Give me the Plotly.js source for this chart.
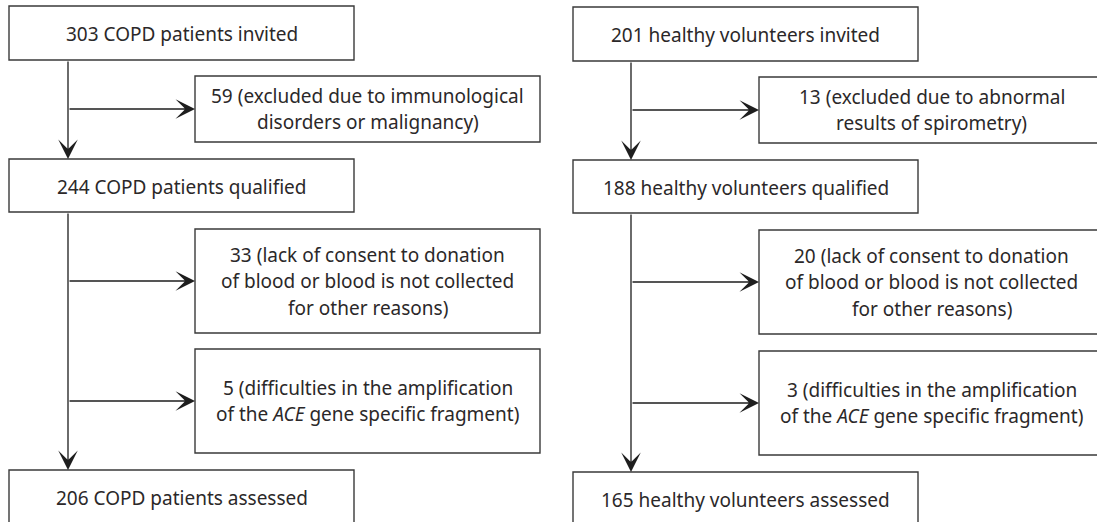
<!DOCTYPE html>
<html>
<head>
<meta charset="utf-8">
<script src="https://cdn.plot.ly/plotly-3.0.1.min.js"></script>
<style>html,body{margin:0;padding:0;background:#fff;}#chart{width:1097px;height:522px;}</style>
</head>
<body>
<div id="chart"></div>
<script>
// ---- data ----
const leftCounts = [303, 59, 244, 33, 5, 206];
const leftPhrases = [
  'COPD patients invited',
  '(excluded due to immunological<br>disorders or malignancy)',
  'COPD patients qualified',
  '(lack of consent to donation<br>of blood or blood is not collected<br>for other reasons)',
  '(difficulties in the amplification<br>of the <i>ACE</i> gene specific fragment)',
  'COPD patients assessed'
];
const rightCounts = [201, 13, 188, 20, 3, 165];
const rightPhrases = [
  'healthy volunteers invited',
  '(excluded due to abnormal<br>results of spirometry)',
  'healthy volunteers qualified',
  '(lack of consent to donation<br>of blood or blood is not collected<br>for other reasons)',
  '(difficulties in the amplification<br>of the <i>ACE</i> gene specific fragment)',
  'healthy volunteers assessed'
];
// box kinds: main (on spine) or side (exclusion)
const kinds = ['main', 'side', 'main', 'side', 'side', 'main'];

// ---- layout geometry ----
const W = 1097, H = 522;
const columns = [
  {counts: leftCounts, phrases: leftPhrases, spine: 68, main: [9, 354], side: [195, 540],
   rows: [[6, 60], [76, 142], [159, 212], [229, 333], [349, 453], [470, 540]]},
  {counts: rightCounts, phrases: rightPhrases, spine: 631, main: [573, 918], side: [759, 1104],
   rows: [[7, 61], [77, 143], [160, 213], [230, 334], [351, 455], [472, 540]]}
];
const FONT = {family: 'Noto Sans, Open Sans, sans-serif', size: 19, color: '#2b2829'};
const LINE_H = 26.5;
const BOX_LINE = {color: '#3a3a3a', width: 1.4};
const ARROW_COLOR = '#1e1e1e';

const shapes = [], annotations = [];

columns.forEach(col => {
  let lastMainBottom = null;
  col.rows.forEach((r, i) => {
    const xs = kinds[i] === 'main' ? col.main : col.side;
    shapes.push({type: 'rect', xref: 'x', yref: 'y', x0: xs[0], x1: xs[1], y0: r[0], y1: r[1],
      line: BOX_LINE, fillcolor: 'rgba(0,0,0,0)'});
    const label = col.counts[i] + ' ' + col.phrases[i];
    const lines = label.split('<br>');
    const cx = (xs[0] + xs[1]) / 2;
    const cy = kinds[i] === 'main' ? r[0] + 27.5 : (r[0] + r[1]) / 2;
    lines.forEach((t, k) => {
      annotations.push({xref: 'x', yref: 'y', x: cx, y: cy + (k - (lines.length - 1) / 2) * LINE_H,
        text: t, showarrow: false, xanchor: 'center', yanchor: 'middle', font: FONT});
    });
    const arrow = {xref: 'x', yref: 'y', axref: 'x', ayref: 'y', text: '', showarrow: true,
      arrowhead: 3, arrowsize: 2.5, arrowwidth: 1.3, arrowcolor: ARROW_COLOR, standoff: 0, startstandoff: 0};
    if (kinds[i] === 'side') {
      const ay = (r[0] + r[1]) / 2;
      annotations.push(Object.assign({}, arrow, {x: xs[0], y: ay, ax: col.spine, ay: ay}));
    } else {
      if (lastMainBottom !== null) {
        annotations.push(Object.assign({}, arrow, {x: col.spine, y: r[0], ax: col.spine, ay: lastMainBottom}));
      }
      lastMainBottom = r[1];
    }
  });
});

const layout = {
  width: W, height: H,
  margin: {l: 0, r: 0, t: 0, b: 0},
  paper_bgcolor: '#ffffff', plot_bgcolor: '#ffffff',
  xaxis: {range: [0, W], visible: false, fixedrange: true},
  yaxis: {range: [H, 0], visible: false, fixedrange: true},
  showlegend: false,
  shapes: shapes,
  annotations: annotations
};
Plotly.newPlot('chart', [], layout, {staticPlot: true, displayModeBar: false});
</script>
</body>
</html>
